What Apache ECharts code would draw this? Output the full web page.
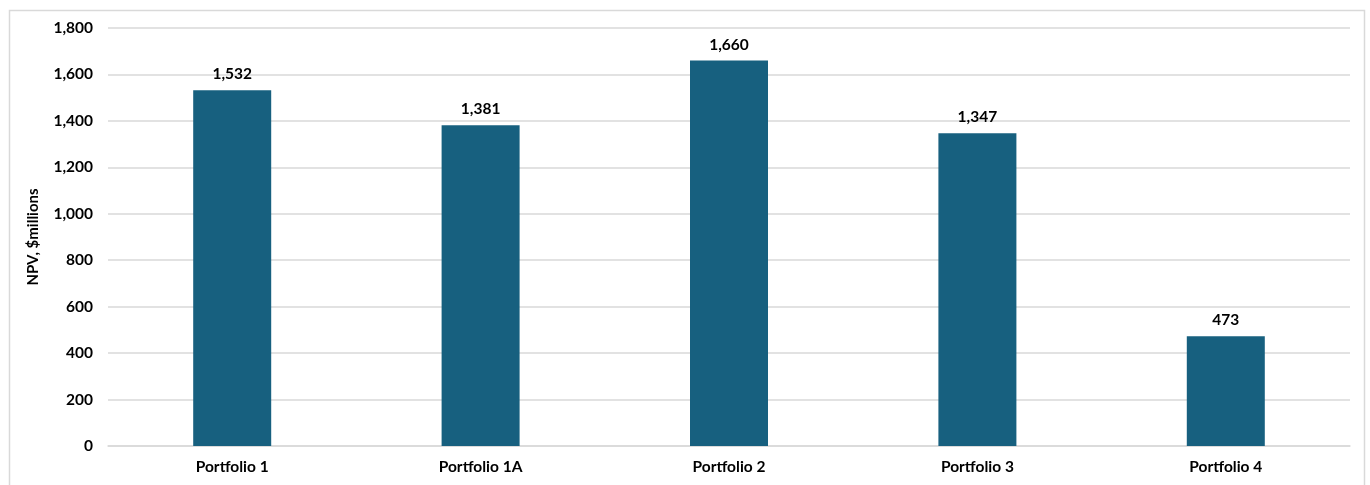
<!DOCTYPE html>
<html>
<head>
<meta charset="utf-8">
<script src="https://cdn.jsdelivr.net/npm/echarts@6/dist/echarts.min.js"></script>
<style>
  html, body { margin: 0; padding: 0; background: #fff; }
  #chart { width: 1370px; height: 485px; }
</style>
</head>
<body>
<div id="chart"></div>
<script>
// NPV by portfolio, $ millions
const categories = ['Portfolio 1', 'Portfolio 1A', 'Portfolio 2', 'Portfolio 3', 'Portfolio 4'];
const npvValues = [1532, 1381, 1660, 1347, 473];
const yTicks = { min: 0, max: 1800, interval: 200 };

const font = 'Lato, Calibri, "Noto Sans", sans-serif';
const chart = echarts.init(document.getElementById('chart'), null, { renderer: 'canvas' });

chart.setOption({
  backgroundColor: '#ffffff',
  animation: false,
  graphic: [{
    type: 'rect',
    left: 7, top: 8,
    shape: { width: 1355, height: 490 },
    style: { fill: 'none', stroke: '#d9d9d9', lineWidth: 1.5 },
    silent: true
  }],
  grid: { left: 108, right: 20, top: 28, bottom: 39, containLabel: false },
  xAxis: {
    type: 'category',
    data: categories,
    axisLine: { show: true, lineStyle: { color: '#d9d9d9', width: 1.5 } },
    axisTick: { show: false },
    axisLabel: { color: '#000', fontFamily: font, fontWeight: 'bold', fontSize: 15.5, margin: 13 }
  },
  yAxis: {
    type: 'value',
    min: yTicks.min, max: yTicks.max, interval: yTicks.interval,
    name: 'NPV, $millions',
    nameLocation: 'middle',
    nameRotate: 90,
    nameGap: 67,
    nameTextStyle: { color: '#000', fontFamily: font, fontWeight: 'bold', fontSize: 15 },
    axisLine: { show: false },
    axisTick: { show: false },
    splitLine: { lineStyle: { color: '#d9d9d9', width: 1.5 } },
    axisLabel: {
      color: '#000', fontFamily: font, fontWeight: 'bold', fontSize: 15.5, margin: 15,
      formatter: v => v.toLocaleString('en-US')
    }
  },
  series: [{
    type: 'bar',
    data: npvValues,
    barWidth: 78,
    itemStyle: { color: '#17607f' },
    label: {
      show: true,
      position: 'top',
      distance: 8,
      color: '#000',
      fontFamily: font,
      fontWeight: 'bold',
      fontSize: 15.5,
      formatter: p => p.value.toLocaleString('en-US')
    }
  }]
});
</script>
</body>
</html>
